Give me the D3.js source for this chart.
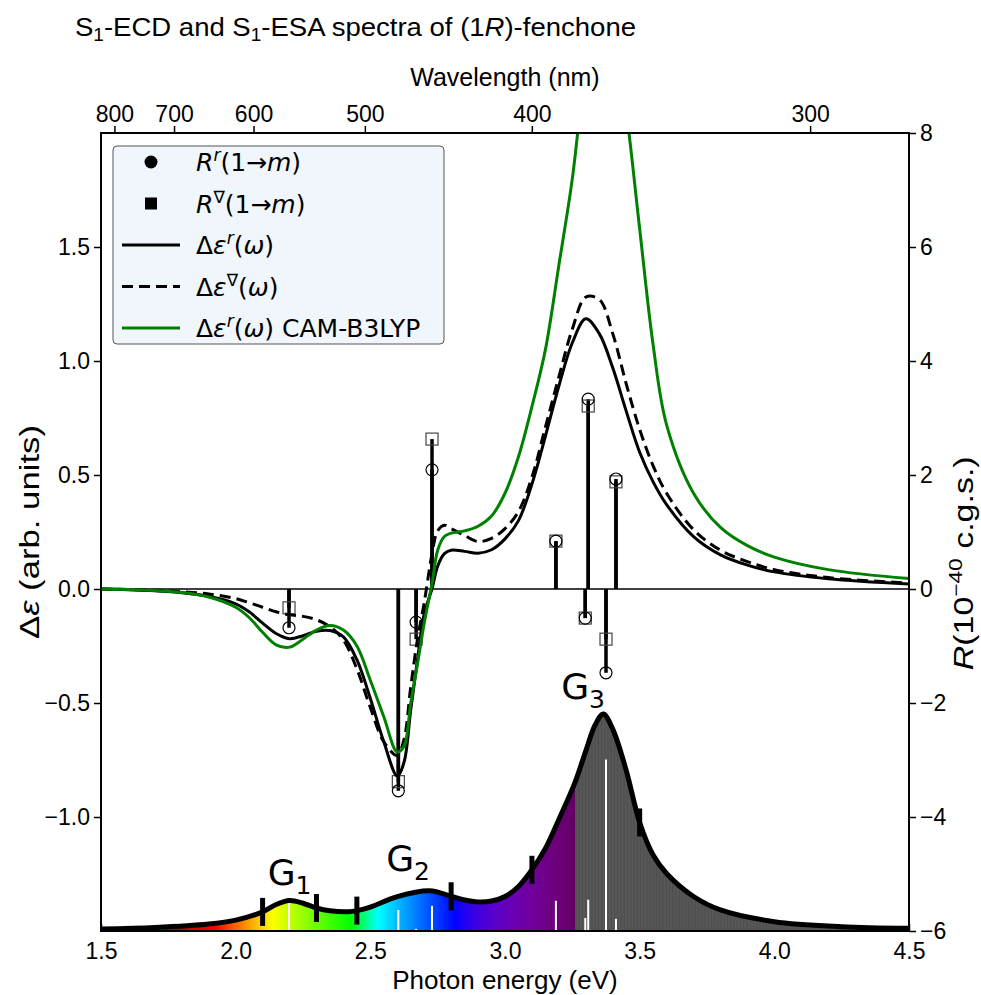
<!DOCTYPE html>
<html>
<head>
<meta charset="utf-8">
<script src="https://cdn.jsdelivr.net/npm/d3@7"></script>
<style>
body { margin: 0; background: #fff; }
text { font-family: "Liberation Sans", Arial, sans-serif; fill: #000; }
.math { font-family: "DejaVu Sans", sans-serif; }
</style>
</head>
<body>
<script>
// Data.
const energy = [1.5, 1.6, 1.7, 1.8, 1.9, 2.0, 2.05, 2.1, 2.15, 2.2, 2.25, 2.3, 2.35, 2.4, 2.45, 2.5, 2.55, 2.6, 2.625, 2.65, 2.675, 2.7, 2.73, 2.75, 2.775, 2.8, 2.85, 2.9, 2.95, 3.0, 3.05, 3.1, 3.15, 3.2, 3.25, 3.3, 3.35, 3.4, 3.45, 3.5, 3.55, 3.6, 3.7, 3.8, 3.9, 4.0, 4.2, 4.5];
const dEpsR = [0, -0.003, -0.008, -0.016, -0.032, -0.065, -0.1, -0.15, -0.195, -0.218, -0.205, -0.185, -0.182, -0.21, -0.31, -0.48, -0.67, -0.82, -0.76, -0.53, -0.31, -0.11, 0.005, 0.1, 0.155, 0.17, 0.165, 0.157, 0.172, 0.22, 0.3, 0.46, 0.67, 0.89, 1.08, 1.185, 1.12, 0.97, 0.78, 0.6, 0.47, 0.37, 0.23, 0.15, 0.105, 0.075, 0.045, 0.022];
const dEpsNabla = [0, -0.002, -0.006, -0.012, -0.022, -0.042, -0.06, -0.08, -0.1, -0.113, -0.12, -0.135, -0.165, -0.224, -0.35, -0.52, -0.67, -0.73, -0.66, -0.43, -0.22, -0.06, 0.16, 0.255, 0.28, 0.265, 0.235, 0.208, 0.222, 0.265, 0.34, 0.49, 0.71, 0.93, 1.14, 1.28, 1.27, 1.12, 0.9, 0.7, 0.54, 0.42, 0.26, 0.17, 0.12, 0.085, 0.05, 0.026];
const dEpsCam = [0, -0.002, -0.007, -0.015, -0.035, -0.08, -0.125, -0.19, -0.245, -0.255, -0.22, -0.18, -0.16, -0.18, -0.25, -0.4, -0.56, -0.715, -0.69, -0.5, -0.33, -0.15, 0.03, 0.17, 0.23, 0.245, 0.255, 0.275, 0.32, 0.42, 0.58, 0.8, 1.05, 1.42, 1.8, 2.3, 2.6, 2.5, 2.1, 1.58, 1.07, 0.72, 0.42, 0.27, 0.19, 0.14, 0.085, 0.046];

// Rotatory strengths (10^-40 cgs) and ESA sticks at the same energies.
const stickEnergy = [2.198, 2.604, 2.670, 2.729, 3.189, 3.298, 3.309, 3.375, 3.412];
const rotR = [-0.68, -3.54, -0.58, 2.09, 0.84, -0.51, 3.33, -1.47, 1.93];
const rotNabla = [-0.33, -3.38, -0.88, 2.63, 0.84, -0.51, 3.21, -0.88, 1.88];
const esaStick = [0.13, 0.097, 0.01, 0.116, 0.139, 0.06, 0.144, 0.79, 0.056];

// ESA spectrum (normalised).
const esaEnergy = [1.5, 1.7, 1.9, 2.0, 2.1, 2.15, 2.2, 2.25, 2.3, 2.35, 2.42, 2.45, 2.5, 2.6, 2.72, 2.8, 2.85, 2.9, 2.95, 3.0, 3.05, 3.1, 3.15, 3.2, 3.26, 3.3, 3.335, 3.365, 3.4, 3.45, 3.5, 3.55, 3.6, 3.7, 3.8, 4.0, 4.25, 4.5];
const esaValue = [0.009, 0.016, 0.032, 0.05, 0.088, 0.122, 0.14, 0.128, 0.106, 0.093, 0.089, 0.094, 0.11, 0.158, 0.185, 0.16, 0.143, 0.134, 0.138, 0.159, 0.205, 0.282, 0.38, 0.514, 0.685, 0.83, 0.95, 1.0, 0.93, 0.74, 0.5, 0.35, 0.265, 0.159, 0.097, 0.043, 0.02, 0.0125];
const groupMarks = [2.1, 2.3, 2.45, 2.8, 3.1, 3.5];
const groupLabels = [{ name: 'G', sub: '1', e: 2.2, v: 0.213 }, { name: 'G', sub: '2', e: 2.64, v: 0.275 }, { name: 'G', sub: '3', e: 3.29, v: 1.07 }];

const nmTicks = [800, 700, 600, 500, 400, 300];
const eTicks = [1.5, 2.0, 2.5, 3.0, 3.5, 4.0, 4.5];
const leftTicks = [-1.0, -0.5, 0.0, 0.5, 1.0, 1.5];
const rightTicks = [-6, -4, -2, 0, 2, 4, 6, 8];

const HC = 1239.84;

// Dimensions
const margin = { top: 133, right: 72, bottom: 64, left: 101 },
    width = 981 - margin.left - margin.right,
    height = 995 - margin.top - margin.bottom;

const svg = d3.select('body').append('svg')
    .attr('width', 981)
    .attr('height', 995);

const defs = svg.append('defs');

// Scales
const x = d3.scaleLinear().domain([1.5, 4.5]).range([margin.left, margin.left + width]);
const y = d3.scaleLinear().domain([-1.5, 2.0]).range([margin.top + height, margin.top]);
const yR = d3.scaleLinear().domain([-6, 8]).range([margin.top + height, margin.top]);
const yEsa = d3.scaleLinear().domain([0, 1]).range([y(-1.5), y(-0.548)]);

// wavelength -> pixel, shaped so d3.axisTop accepts it
const xNm = nm => x(HC / nm);
xNm.copy = () => xNm;
xNm.range = () => x.range();
xNm.domain = () => [HC / 1.5, HC / 4.5];

defs.append('clipPath').attr('id', 'plot-clip')
    .append('rect')
    .attr('x', margin.left).attr('y', margin.top)
    .attr('width', width).attr('height', height);

// Rainbow gradient (Bruton's wavelength to rgb)
function waveColor(nm) {
    let r = 0, g = 0, b = 0;
    const gamma = 0.8;
    if (nm >= 380 && nm < 440) {
        const a = 0.3 + 0.7 * (nm - 380) / 60;
        r = Math.pow((440 - nm) / 60 * a, gamma); b = Math.pow(a, gamma);
    } else if (nm < 490) { g = (nm - 440) / 50; b = 1; }
    else if (nm < 510) { g = 1; b = (510 - nm) / 20; }
    else if (nm < 580) { r = (nm - 510) / 70; g = 1; }
    else if (nm < 645) { r = 1; g = (645 - nm) / 65; }
    else if (nm <= 750) {
        const a = 0.3 + 0.7 * (750 - nm) / 105;
        r = Math.pow(a, gamma);
    }
    return d3.rgb(r * 255, g * 255, b * 255).toString();
}

const eViolet = HC / 380;
const grad = defs.append('linearGradient').attr('id', 'rainbow')
    .attr('gradientUnits', 'userSpaceOnUse')
    .attr('x1', x(1.5)).attr('x2', x(eViolet)).attr('y1', 0).attr('y2', 0);
d3.range(1.5, eViolet, 0.01).concat([eViolet]).forEach(e => {
    grad.append('stop')
        .attr('offset', (x(e) - x(1.5)) / (x(eViolet) - x(1.5)))
        .attr('stop-color', waveColor(HC / e));
});

// Axes
const gLeft = svg.append('g').attr('transform', `translate(${margin.left},0)`)
    .call(d3.axisLeft(y).tickValues(leftTicks).tickSize(7).tickPadding(4)
        .tickFormat(d => d3.format('.1f')(d).replace('-', '\u2212')));
const gRight = svg.append('g').attr('transform', `translate(${margin.left + width},0)`)
    .call(d3.axisRight(yR).tickValues(rightTicks).tickSize(7).tickPadding(4)
        .tickFormat(d => String(d).replace('-', '\u2212')));
const gBottom = svg.append('g').attr('transform', `translate(0,${margin.top + height})`)
    .call(d3.axisBottom(x).tickValues(eTicks).tickSize(-7).tickPadding(12)
        .tickFormat(d3.format('.1f')));
const gTop = svg.append('g').attr('transform', `translate(0,${margin.top})`)
    .call(d3.axisTop(xNm).tickValues(nmTicks).tickSize(7).tickPadding(4));

[gLeft, gRight, gBottom, gTop].forEach(g => {
    g.select('.domain').remove();
    g.selectAll('.tick line').attr('stroke', '#000').attr('stroke-width', 1.5);
    g.selectAll('.tick text').attr('font-family', '"Liberation Sans", Arial, sans-serif')
        .attr('font-size', 23).attr('fill', '#000');
});

// ESA spectrum
const esa = esaEnergy.map((e, i) => ({ e: e, v: esaValue[i] }));
const esaArea = d3.area().x(d => x(d.e)).y0(yEsa(0)).y1(d => yEsa(d.v)).curve(d3.curveCatmullRom.alpha(0.5));
const esaLine = d3.line().x(d => x(d.e)).y(d => yEsa(d.v)).curve(d3.curveCatmullRom.alpha(0.5));

defs.append('clipPath').attr('id', 'vis-clip').append('rect')
    .attr('x', x(1.5)).attr('y', margin.top).attr('width', x(eViolet) - x(1.5)).attr('height', height);
defs.append('clipPath').attr('id', 'uv-clip').append('rect')
    .attr('x', x(eViolet)).attr('y', margin.top).attr('width', x(4.5) - x(eViolet)).attr('height', height);
defs.append('clipPath').attr('id', 'esa-clip').append('path').attr('d', esaArea(esa));

const esaG = svg.append('g').attr('class', 'esa');
esaG.append('path').attr('d', esaArea(esa)).attr('fill', 'url(#rainbow)').attr('clip-path', 'url(#vis-clip)');
esaG.append('g').attr('clip-path', 'url(#uv-clip)')
    .append('path').attr('d', esaArea(esa)).attr('fill', '#575757');
esaG.append('g').attr('clip-path', 'url(#esa-clip)')
    .selectAll('line').data(d3.range(eViolet, 4.5, 0.012)).join('line')
    .attr('x1', d => x(d)).attr('x2', d => x(d))
    .attr('y1', margin.top).attr('y2', margin.top + height)
    .attr('stroke', '#4a4a4a').attr('stroke-width', 0.7);
esaG.selectAll('line.esa-stick').data(stickEnergy).join('line').attr('class', 'esa-stick')
    .attr('x1', d => x(d)).attr('x2', d => x(d))
    .attr('y1', yEsa(0)).attr('y2', (d, i) => yEsa(esaStick[i]))
    .attr('stroke', '#fff').attr('stroke-width', 2);
esaG.append('path').attr('d', esaLine(esa))
    .attr('fill', 'none').attr('stroke', '#000').attr('stroke-width', 5);
esaG.selectAll('line.mark').data(groupMarks).join('line').attr('class', 'mark')
    .attr('x1', d => x(d)).attr('x2', d => x(d))
    .attr('y1', d => yEsa(esaValue[esaEnergy.indexOf(d)]) - 14)
    .attr('y2', d => yEsa(esaValue[esaEnergy.indexOf(d)]) + 14)
    .attr('stroke', '#000').attr('stroke-width', 5);

groupLabels.forEach(d => {
    const t = esaG.append('text').attr('class', 'math')
        .attr('x', x(d.e)).attr('y', yEsa(d.v))
        .attr('text-anchor', 'middle').attr('font-size', 36);
    t.append('tspan').text(d.name);
    t.append('tspan').attr('font-size', 25).attr('dy', 9).text(d.sub);
});

// Zero line
svg.append('line')
    .attr('x1', margin.left).attr('x2', margin.left + width)
    .attr('y1', y(0)).attr('y2', y(0))
    .attr('stroke', '#000').attr('stroke-width', 1.5);

// Stems and markers
const stems = svg.append('g').attr('class', 'stems');
[rotR, rotNabla].forEach(vals => {
    stems.append('g').selectAll('line').data(stickEnergy).join('line')
        .attr('x1', d => x(d)).attr('x2', d => x(d))
        .attr('y1', yR(0)).attr('y2', (d, i) => yR(vals[i]))
        .attr('stroke', '#000').attr('stroke-width', 3.5);
});

// Spectra
const curves = svg.append('g').attr('clip-path', 'url(#plot-clip)');
const specLine = vals => d3.line().x(d => x(d)).y((d, i) => y(vals[i])).curve(d3.curveCatmullRom.alpha(0.5))(energy);
curves.append('path').attr('d', specLine(dEpsR))
    .attr('fill', 'none').attr('stroke', '#000').attr('stroke-width', 3);
curves.append('path').attr('d', specLine(dEpsNabla))
    .attr('fill', 'none').attr('stroke', '#000').attr('stroke-width', 3).attr('stroke-dasharray', '11,6');
curves.append('path').attr('d', specLine(dEpsCam))
    .attr('fill', 'none').attr('stroke', '#008000').attr('stroke-width', 3);

stems.append('g').selectAll('rect').data(stickEnergy).join('rect')
    .attr('x', d => x(d) - 6).attr('y', (d, i) => yR(rotNabla[i]) - 6)
    .attr('width', 12).attr('height', 12)
    .attr('fill', 'none').attr('stroke', '#444').attr('stroke-width', 1.2);
stems.append('g').selectAll('circle').data(stickEnergy).join('circle')
    .attr('cx', d => x(d)).attr('cy', (d, i) => yR(rotR[i]))
    .attr('r', 6).attr('fill', 'none').attr('stroke', '#000').attr('stroke-width', 1.2);

// Frame
svg.append('rect')
    .attr('x', margin.left).attr('y', margin.top)
    .attr('width', width).attr('height', height)
    .attr('fill', 'none').attr('stroke', '#000').attr('stroke-width', 2);

// Legend
const legend = svg.append('g').attr('class', 'legend');
legend.append('rect').attr('x', 113).attr('y', 146).attr('width', 331).attr('height', 198)
    .attr('rx', 4).attr('fill', '#f1f6fc').attr('stroke', '#555').attr('stroke-width', 1);

const legendRows = [
    { type: 'circle', parts: [['R', 'i'], ['r', 'si'], ['(1\u2192', ''], ['m', 'i'], [')', '']] },
    { type: 'square', parts: [['R', 'i'], ['\u2207', 's'], ['(1\u2192', ''], ['m', 'i'], [')', '']] },
    { type: 'solid', parts: [['\u0394', ''], ['\u03b5', 'i'], ['r', 'si'], ['(', ''], ['\u03c9', 'i'], [')', '']] },
    { type: 'dash', parts: [['\u0394', ''], ['\u03b5', 'i'], ['\u2207', 's'], ['(', ''], ['\u03c9', 'i'], [')', '']] },
    { type: 'green', parts: [['\u0394', ''], ['\u03b5', 'i'], ['r', 'si'], ['(', ''], ['\u03c9', 'i'], [') CAM-B3LYP', '']] }
];
legendRows.forEach((row, k) => {
    const cy = 162 + k * 41.5;
    if (row.type === 'circle') {
        legend.append('circle').attr('cx', 151).attr('cy', cy).attr('r', 6.5).attr('fill', '#000');
    } else if (row.type === 'square') {
        legend.append('rect').attr('x', 145).attr('y', cy - 6).attr('width', 12).attr('height', 12).attr('fill', '#000');
    } else {
        legend.append('line').attr('x1', 122).attr('x2', 180).attr('y1', cy).attr('y2', cy)
            .attr('stroke', row.type === 'green' ? '#008000' : '#000').attr('stroke-width', 3)
            .attr('stroke-dasharray', row.type === 'dash' ? '11,6' : null);
    }
    const t = legend.append('text').attr('class', 'math').attr('x', 196).attr('y', cy + 9).attr('font-size', 25);
    let raised = false;
    row.parts.forEach(p => {
        const s = t.append('tspan').text(p[0]);
        if (p[1].includes('i')) s.attr('font-style', 'italic');
        if (p[1].includes('s')) { s.attr('font-size', 17).attr('dy', -10); raised = true; }
        else if (raised) { s.attr('dy', 10); raised = false; }
    });
});

// Titles and axis labels
const title = svg.append('text').attr('x', 75).attr('y', 36).attr('font-size', 26)
    .attr('textLength', 561).attr('lengthAdjust', 'spacingAndGlyphs');
title.append('tspan').text('S');
title.append('tspan').attr('font-size', 18).attr('dy', 5).text('1');
title.append('tspan').attr('dy', -5).text('-ECD and S');
title.append('tspan').attr('font-size', 18).attr('dy', 5).text('1');
title.append('tspan').attr('dy', -5).text('-ESA spectra of (1');
title.append('tspan').attr('font-style', 'italic').text('R');
title.append('tspan').text(')-fenchone');

svg.append('text').attr('x', margin.left + width / 2).attr('y', 86)
    .attr('text-anchor', 'middle').attr('font-size', 25).text('Wavelength (nm)');
svg.append('text').attr('x', margin.left + width / 2).attr('y', 989)
    .attr('text-anchor', 'middle').attr('font-size', 26).text('Photon energy (eV)');

const yLab = svg.append('text').attr('transform', `translate(39,${y(0.25)}) rotate(-90)`)
    .attr('text-anchor', 'middle').attr('font-size', 27)
    .attr('textLength', 214).attr('lengthAdjust', 'spacingAndGlyphs');
yLab.append('tspan').text('\u0394');
yLab.append('tspan').attr('font-style', 'italic').text('\u03b5');
yLab.append('tspan').text(' (arb. units)');

const rLab = svg.append('text').attr('transform', `translate(973,${yR(0.45)}) rotate(-90)`)
    .attr('text-anchor', 'middle').attr('font-size', 27)
    .attr('textLength', 214).attr('lengthAdjust', 'spacingAndGlyphs');
rLab.append('tspan').attr('font-style', 'italic').text('R');
rLab.append('tspan').text('(10');
rLab.append('tspan').attr('font-size', 18).attr('dy', -11).text('\u221240');
rLab.append('tspan').attr('dy', 11).text(' c.g.s.)');
</script>
</body>
</html>
